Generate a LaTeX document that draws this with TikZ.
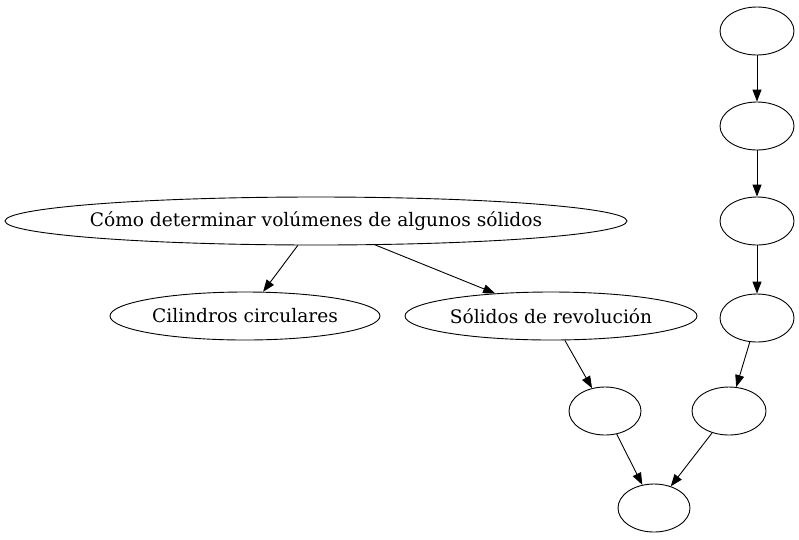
\documentclass[tikz,border=0pt]{standalone}
\usepackage{fontspec}
\setmainfont{DejaVu Serif}
\usetikzlibrary{shapes.geometric,arrows.meta}
\begin{document}
\begin{tikzpicture}[x=1pt,y=-1pt,line width=0.9pt,
  ell/.style={draw,ellipse,inner sep=0pt,minimum height=48pt},
  lbl/.style={font=\fontsize{18.6}{22}\selectfont,inner sep=0pt},
  edge/.style={draw,-{Triangle[length=12pt,width=9pt]}}]
\useasboundingbox (0,0) rectangle (799,539);
\node[ell,minimum width=74pt] (e1) at (757,31) {};
\node[ell,minimum width=74pt] (e2) at (757,126) {};
\node[ell,minimum width=74pt] (e3) at (757,221) {};
\node[ell,minimum width=74pt] (e4) at (757,318) {};
\node[ell,minimum width=622pt,label={[lbl]center:Cómo determinar volúmenes de algunos sólidos}] (big) at (316,221) {};
\node[ell,minimum width=270pt,label={[lbl]center:Cilindros circulares}] (cil) at (245,316) {};
\node[ell,minimum width=292pt,label={[lbl]center:Sólidos de revolución}] (sol) at (551,316) {};
\node[ell,minimum width=72pt] (e5) at (605,411) {};
\node[ell,minimum width=74pt] (e6) at (729,411) {};
\node[ell,minimum width=72pt] (e7) at (654,508) {};
\path[edge] (e1) -- (e2);
\path[edge] (e2) -- (e3);
\path[edge] (e3) -- (e4);
\path[edge] (e4) -- (e6);
\path[edge] (big) -- (cil);
\path[edge] (big) -- (sol);
\path[edge] (sol) -- (e5);
\path[edge] (e5) -- (e7);
\path[edge] (e6) -- (e7);
\end{tikzpicture}
\end{document}
